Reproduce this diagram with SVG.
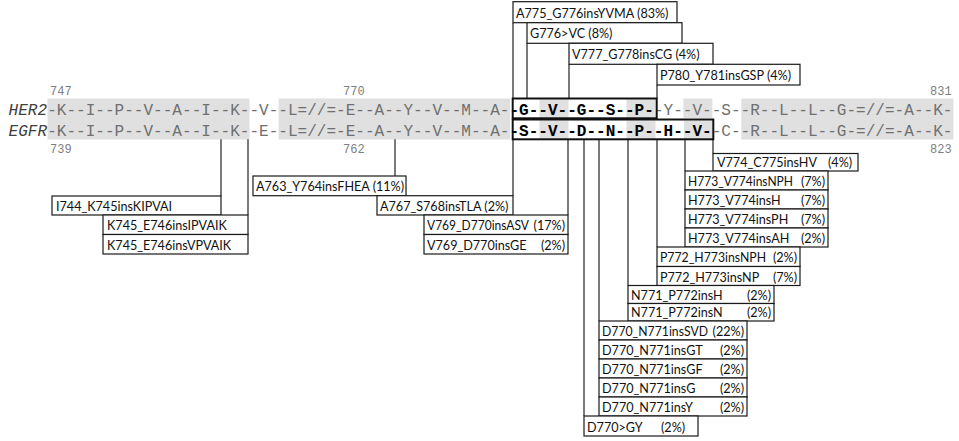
<svg xmlns="http://www.w3.org/2000/svg" width="959" height="441" viewBox="0 0 959 441">
<style>
.seq{font-family:"Liberation Mono","Courier New",monospace;font-size:16.06px;fill:#707070}
.seq .b{font-weight:bold;fill:#000}
.sp{font-family:"Liberation Mono","Courier New",monospace;font-style:italic;font-size:16.06px;fill:#404040}
.num{font-family:"Liberation Mono","Courier New",monospace;font-size:12px;fill:#808080}
.hl{fill:#e0e0e0}
.sbox{fill:none;stroke:#111;stroke-width:2}
.node rect{fill:#fff;stroke:#1a1a1a;stroke-width:1.2}
.node text{font-family:Lato,"Liberation Sans",sans-serif;font-size:12.6px;fill:#111}
.node text.pe{text-anchor:end}
#connectors line{stroke:#333;stroke-width:1.3}
</style>
<rect x="0" y="0" width="959" height="441" fill="#fff"/>
<g id="highlights">
<rect class="hl" x="47.5" y="98.5" width="202" height="41"/>
<rect class="hl" x="278.6" y="98.5" width="231.4" height="41"/>
<rect class="hl" x="539.5" y="99.5" width="29" height="18.5"/>
<rect class="hl" x="626.5" y="99.5" width="29" height="18.5"/>
<rect class="hl" x="539.5" y="120.5" width="29" height="18.5"/>
<rect class="hl" x="626.5" y="120.5" width="29" height="18.5"/>
<rect class="hl" x="684" y="120.5" width="28.5" height="18.5"/>
<rect class="hl" x="683.4" y="98.5" width="29" height="19.5"/>
<rect class="hl" x="741.3" y="98.5" width="212.2" height="41"/>
</g>
<g id="connectors">
<line x1="513" y1="22.7" x2="513" y2="98.5"/>
<line x1="527" y1="43.3" x2="527" y2="98.5"/>
<line x1="569" y1="64.3" x2="569" y2="98.5"/>
<line x1="657" y1="85" x2="657" y2="98.5"/>
<line x1="221" y1="139.3" x2="221" y2="196"/>
<line x1="248" y1="139.3" x2="248" y2="215"/>
<line x1="395" y1="139.3" x2="395" y2="176"/>
<line x1="513" y1="139.3" x2="513" y2="195.7"/>
<line x1="568" y1="139.3" x2="568" y2="215"/>
<line x1="584" y1="139.3" x2="584" y2="416"/>
<line x1="599" y1="139.3" x2="599" y2="321"/>
<line x1="628" y1="139.3" x2="628" y2="285.5"/>
<line x1="657" y1="139.3" x2="657" y2="247"/>
<line x1="685" y1="139.3" x2="685" y2="171"/>
<line x1="713" y1="139.3" x2="713" y2="153.5"/>
</g>
<g id="sequence">
<text class="num" x="50" y="95">747</text>
<text class="num" x="343" y="95">770</text>
<text class="num" x="930" y="95">831</text>
<text class="num" x="50" y="152.5">739</text>
<text class="num" x="343" y="152.5">762</text>
<text class="num" x="930" y="152.5">823</text>
<text class="sp" x="8.6" y="114.5">HER2</text>
<text class="sp" x="8.6" y="135.5">EGFR</text>
<text class="seq" x="47.2" y="114.5">-K--I--P--V--A--I--K--V--L=//=-E--A--Y--V--M--A-<tspan class="b">-G--V--G--S--P-</tspan>-Y--V--S--R--L--L--G-=//=-A--K-</text>
<text class="seq" x="47.2" y="135.5">-K--I--P--V--A--I--K--E--L=//=-E--A--Y--V--M--A-<tspan class="b">-S--V--D--N--P--H--V-</tspan>-C--R--L--L--G-=//=-A--K-</text>
<rect class="sbox" x="512.7" y="98.5" width="144" height="19.8"/>
<rect class="sbox" x="512.7" y="119.5" width="200.6" height="19.8"/>
</g>
<g id="n_a775" class="node"><rect x="513" y="1.7" width="164" height="21"/><text x="516" y="17.5">A775_G776insYVMA (83%)</text></g>
<g id="n_g776" class="node"><rect x="527" y="22.7" width="155" height="20.6"/><text x="530" y="38.3">G776&gt;VC (8%)</text></g>
<g id="n_v777" class="node"><rect x="569" y="43.3" width="144" height="21"/><text x="572" y="59.3">V777_G778insCG (4%)</text></g>
<g id="n_p780" class="node"><rect x="657" y="64.3" width="143" height="20.7"/><text x="660" y="80">P780_Y781insGSP (4%)</text></g>
<g id="n_i744" class="node"><rect x="52" y="196" width="169" height="19"/><text x="56" y="211">I744_K745insKIPVAI</text></g>
<g id="n_k745a" class="node"><rect x="103" y="215" width="145" height="19.5"/><text x="107" y="230">K745_E746insIPVAIK</text></g>
<g id="n_k745b" class="node"><rect x="103" y="234.5" width="145" height="19.5"/><text x="107" y="249.5">K745_E746insVPVAIK</text></g>
<g id="n_a763" class="node"><rect x="253" y="176" width="153" height="19.7"/><text x="256" y="191">A763_Y764insFHEA (11%)</text></g>
<g id="n_a767" class="node"><rect x="377" y="195.7" width="136" height="19.3"/><text x="380" y="210.5">A767_S768insTLA (2%)</text></g>
<g id="n_v769a" class="node"><rect x="424" y="215" width="144" height="19.5"/><text x="427" y="230" textLength="102" lengthAdjust="spacingAndGlyphs">V769_D770insASV</text><text class="pe" x="565" y="230">(17%)</text></g>
<g id="n_v769b" class="node"><rect x="424" y="234.5" width="144" height="19.5"/><text x="427" y="249.5">V769_D770insGE</text><text class="pe" x="565" y="249.5">(2%)</text></g>
<g id="n_v774" class="node"><rect x="713" y="153.5" width="145" height="17.5"/><text x="717" y="167">V774_C775insHV</text><text x="828" y="167">(4%)</text></g>
<g id="n_h773a" class="node"><rect x="685" y="171" width="143" height="19"/><text x="688" y="186" textLength="105" lengthAdjust="spacingAndGlyphs">H773_V774insNPH</text><text class="pe" x="825" y="186">(7%)</text></g>
<g id="n_h773b" class="node"><rect x="685" y="190" width="143" height="19"/><text x="688" y="205">H773_V774insH</text><text class="pe" x="825" y="205">(7%)</text></g>
<g id="n_h773c" class="node"><rect x="685" y="209" width="143" height="19"/><text x="688" y="224">H773_V774insPH</text><text class="pe" x="825" y="224">(7%)</text></g>
<g id="n_h773d" class="node"><rect x="685" y="228" width="143" height="19"/><text x="688" y="243">H773_V774insAH</text><text class="pe" x="825" y="243">(2%)</text></g>
<g id="n_p772a" class="node"><rect x="657" y="247" width="143" height="19.5"/><text x="660" y="262" textLength="106" lengthAdjust="spacingAndGlyphs">P772_H773insNPH</text><text class="pe" x="797" y="262">(2%)</text></g>
<g id="n_p772b" class="node"><rect x="657" y="266.5" width="143" height="19"/><text x="660" y="281.5">P772_H773insNP</text><text class="pe" x="797" y="281.5">(7%)</text></g>
<g id="n_n771a" class="node"><rect x="628" y="285.5" width="146" height="18"/><text x="631" y="299.5">N771_P772insH</text><text class="pe" x="771" y="299.5">(2%)</text></g>
<g id="n_n771b" class="node"><rect x="628" y="303.5" width="146" height="17.5"/><text x="631" y="317">N771_P772insN</text><text class="pe" x="771" y="317">(2%)</text></g>
<g id="n_d770a" class="node"><rect x="599" y="321" width="148" height="19"/><text x="602" y="336" textLength="106" lengthAdjust="spacingAndGlyphs">D770_N771insSVD</text><text class="pe" x="744" y="336">(22%)</text></g>
<g id="n_d770b" class="node"><rect x="599" y="340" width="148" height="19"/><text x="602" y="355">D770_N771insGT</text><text class="pe" x="744" y="355">(2%)</text></g>
<g id="n_d770c" class="node"><rect x="599" y="359" width="148" height="19"/><text x="602" y="374">D770_N771insGF</text><text class="pe" x="744" y="374">(2%)</text></g>
<g id="n_d770d" class="node"><rect x="599" y="378" width="148" height="19"/><text x="602" y="393">D770_N771insG</text><text class="pe" x="744" y="393">(2%)</text></g>
<g id="n_d770e" class="node"><rect x="599" y="397" width="148" height="19"/><text x="602" y="412">D770_N771insY</text><text class="pe" x="744" y="412">(2%)</text></g>
<g id="n_d770gy" class="node"><rect x="584" y="416" width="114" height="20"/><text x="587" y="431.5">D770&gt;GY</text><text x="661" y="431.5">(2%)</text></g>
</svg>
